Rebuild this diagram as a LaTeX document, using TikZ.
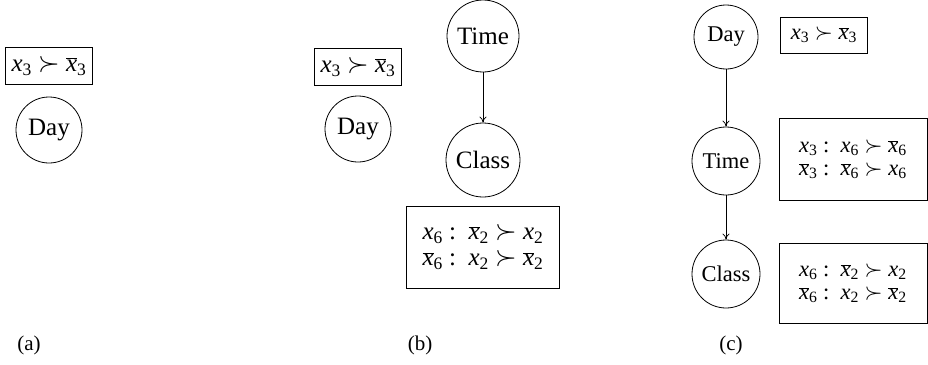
\documentclass[tikz,border=0pt]{standalone}
\usepackage{fontspec}
\setmainfont{Liberation Serif}
\usetikzlibrary{arrows.meta}
\newcommand\xv[1]{\textit{x}\textsubscript{#1}}
\newcommand\xb[1]{$\overline{\mbox{\textit{x}}}$\textsubscript{#1}}
\newcommand\pref{\hspace{0.25em}\scalebox{1.12}{$\succ$}\hspace{0.25em}}
\newcommand\bigf{\fontsize{25}{29}\selectfont}
\newcommand\smallf{\fontsize{22.5}{26}\selectfont}
\begin{document}
\begin{tikzpicture}[x=1pt,y=-1pt,line width=0.8pt,
  varbig/.style={circle,draw,inner sep=0pt,font=\bigf},
  varsmall/.style={circle,draw,inner sep=0pt,font=\smallf},
  cptbig/.style={rectangle,draw,inner sep=0pt,font=\bigf},
  cptsmall/.style={rectangle,draw,inner sep=0pt,font=\smallf},
  caption/.style={font=\fontsize{21}{25}\selectfont,inner sep=0pt},
  edge/.style={-{To[length=6pt,width=7pt]}}]
\useasboundingbox (0,0) rectangle (928,364);
% (a)
\node[cptbig,minimum width=87,minimum height=37] (ca) at (49,66) {\xv3\pref\xb3};
\node[varbig,minimum size=66] (da) at (49,130) {Day};
\node[caption] (la) at (29,345) {(a)};
% (b)
\node[cptbig,minimum width=87,minimum height=37] (cb) at (358,67) {\xv3\pref\xb3};
\node[varbig,minimum size=66] (db) at (358,129) {Day};
\node[varbig,minimum size=72] (tb) at (483,36) {Time};
\node[varbig,minimum size=74] (kb) at (483,160) {Class};
\node[cptbig,minimum width=153,minimum height=82] (ckb) at (483,247)
  {\begin{tabular}{@{}r@{\ :\ \ }l@{}}\xv6 & \xb2\pref\xv2\\[-3pt] \xb6 & \xv2\pref\xb2\end{tabular}};
\draw[edge] (tb) -- (kb);
\node[caption] (lb) at (420,345) {(b)};
% (c)
\node[varsmall,minimum size=64] (dc) at (726,37) {Day};
\node[cptsmall,minimum width=87,minimum height=36] (cdc) at (824,35) {\xv3\pref\xb3};
\node[varsmall,minimum size=68] (tc) at (726,161) {Time};
\node[cptsmall,minimum width=148,minimum height=82] (ctc) at (853,159)
  {\begin{tabular}{@{}r@{\ :\ \ }l@{}}\xv3 & \xv6\pref\xb6\\[-3pt] \xb3 & \xb6\pref\xv6\end{tabular}};
\node[varsmall,minimum size=68] (kc) at (726,274) {Class};
\node[cptsmall,minimum width=148,minimum height=80] (ckc) at (853,283)
  {\begin{tabular}{@{}r@{\ :\ \ }l@{}}\xv6 & \xb2\pref\xv2\\[-3pt] \xb6 & \xv2\pref\xb2\end{tabular}};
\draw[edge] (dc) -- (tc);
\draw[edge] (tc) -- (kc);
\node[caption] (lc) at (731,345) {(c)};
\end{tikzpicture}
\end{document}
